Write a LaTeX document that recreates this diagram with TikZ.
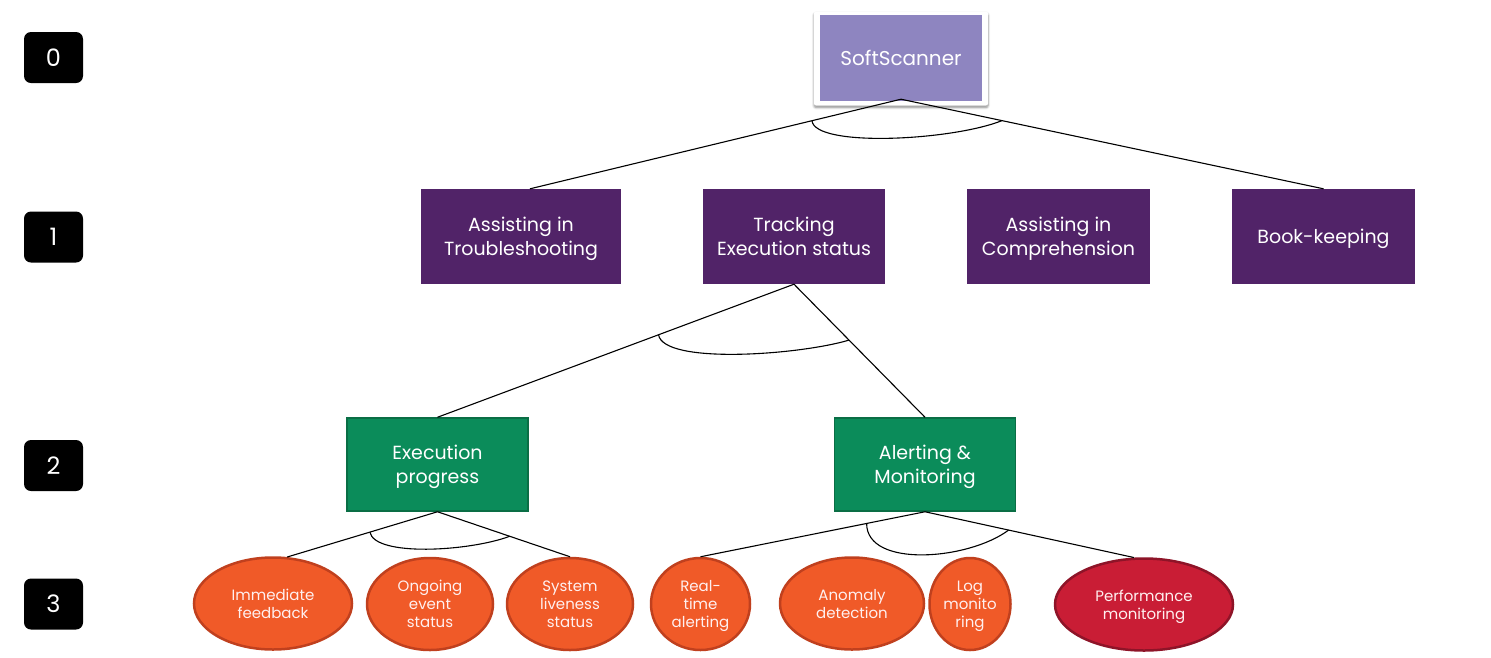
\documentclass[tikz,border=0pt]{standalone}
\usepackage{fontspec}
\setmainfont{Poppins}
\usetikzlibrary{shapes.geometric,shadows,shadows.blur,calc}
\definecolor{lvl0}{HTML}{8E85C0}
\definecolor{lvl1}{HTML}{512368}
\definecolor{lvl2}{HTML}{0B8C5A}
\definecolor{lvl2b}{HTML}{0A6E45}
\definecolor{orf}{HTML}{F05A28}
\definecolor{orb}{HTML}{C0401E}
\definecolor{redf}{HTML}{C91D35}
\definecolor{redb}{HTML}{8E1428}
\definecolor{txt}{HTML}{FFF0F0}
\tikzset{
  lvlbox/.style={fill=black, rounded corners=7pt, minimum width=59pt, minimum height=51pt, text=white, font=\fontsize{24}{28}\selectfont, inner sep=0pt},
  topframe/.style={fill=white, rounded corners=2pt, minimum width=174pt, minimum height=94pt, blur shadow={shadow xshift=0pt, shadow yshift=-2pt, shadow blur steps=6, shadow blur extra rounding=2pt, shadow opacity=45}},
  topbox/.style={fill=lvl0, minimum width=162pt, minimum height=86pt, text=white, font=\fontsize{20}{24}\selectfont, text depth=0pt},
  goalbox/.style={fill=lvl1, minimum height=95pt, text=white, align=center, font=\fontsize{19}{24}\selectfont, inner sep=0pt, text depth=0pt},
  subbox/.style={fill=lvl2, draw=lvl2b, line width=1.5pt, minimum width=181pt, minimum height=93pt, text=white, align=center, font=\fontsize{19}{24}\selectfont, inner sep=0pt, text depth=0pt},
  leaf/.style={ellipse, fill=orf, draw=orb, line width=2.5pt, minimum height=92pt, text=txt, align=center, font=\fontsize{15}{18}\selectfont, inner sep=0pt, text depth=0pt},
  conn/.style={draw=black, line width=1.1pt},
}
\begin{document}
\begin{tikzpicture}[x=1pt,y=-1pt]
\useasboundingbox (0,0) rectangle (1491,657);
% level labels
\node[lvlbox] (l0) at (53.5,57.5) {0};
\node[lvlbox] (l1) at (53.5,237) {1};
\node[lvlbox] (l2) at (53.5,465.5) {2};
\node[lvlbox] (l3) at (53.5,604) {3};
% level 0
\node[topframe] (ssf) at (901,58.5) {};
\node[topbox] (ss) at (901,58) {SoftScanner};
% level 1
\node[goalbox, minimum width=200pt] (g1) at (521,236.5) {Assisting in\\Troubleshooting};
\node[goalbox, minimum width=182pt] (g2) at (794,236.5) {Tracking\\Execution status};
\node[goalbox, minimum width=183pt] (g3) at (1058.5,236.5) {Assisting in\\Comprehension};
\node[goalbox, minimum width=183pt] (g4) at (1323.5,236.5) {Book-keeping};
% level 2
\node[subbox] (s1) at (437.5,464.5) {Execution\\progress};
\node[subbox] (s2) at (925,464.5) {Alerting \&\\Monitoring};
% level 3
\node[leaf, minimum width=158pt] (e1) at (273,603.5) {Immediate\\feedback};
\node[leaf, minimum width=126pt] (e2) at (430,604) {Ongoing\\event\\status};
\node[leaf, minimum width=126pt] (e3) at (570,604) {System\\liveness\\status};
\node[leaf, minimum width=99pt] (e4) at (700.5,604) {Real-\\time\\alerting};
\node[leaf, minimum width=144pt] (e5) at (852,603.5) {Anomaly\\detection};
\node[leaf, minimum width=81pt] (e6) at (970,604) {Log\\monito\\ring};
\node[leaf, minimum width=178pt, fill=redf, draw=redb] (e7) at (1144,604.5) {Performance\\monitoring};
% connectors level 0 -> 1
\coordinate (ssb) at ($(ss.south)+(0,-2)$);
\coordinate (g1t) at ($(g1.north)+(9,0)$);
\draw[conn] (ssb) -- (g1t);
\draw[conn] (ssb) -- (g4.north);
\draw[conn] ($(ssb)!0.24!(g1t)$) .. controls ($(ssb)!0.24!(g1t)+(3,27)$) and ($(ssb)!0.239!(g4.north)+(-50,20)$) .. ($(ssb)!0.239!(g4.north)$);
% level 1 -> 2
\draw[conn] (g2.south) -- (s1.north);
\draw[conn] (g2.south) -- (s2.north);
\draw[conn] ($(g2.south)!0.38!(s1.north)$) .. controls ($(g2.south)!0.38!(s1.north)+(5,30)$) and ($(g2.south)!0.42!(s2.north)+(-50,15)$) .. ($(g2.south)!0.42!(s2.north)$);
% level 2 -> 3 (left)
\draw[conn] (s1.south) -- (e1.73);
\draw[conn] (s1.south) -- (e3.north);
\draw[conn] ($(s1.south)!0.45!(e1.73)$) .. controls ($(s1.south)!0.45!(e1.73)+(5,25)$) and ($(s1.south)!0.545!(e3.north)+(-40,15)$) .. ($(s1.south)!0.545!(e3.north)$);
% level 2 -> 3 (right)
\draw[conn] (s2.south) -- (e4.north);
\draw[conn] (s2.south) -- (e7.102);
\draw[conn] ($(s2.south)!0.26!(e4.north)$) .. controls ($(s2.south)!0.26!(e4.north)+(0,45)$) and ($(s2.south)!0.4!(e7.102)+(-40,30)$) .. ($(s2.south)!0.4!(e7.102)$);
\end{tikzpicture}
\end{document}
